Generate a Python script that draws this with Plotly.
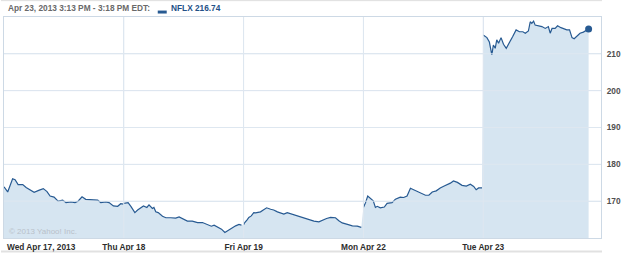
import plotly.graph_objects as go

# ---- data (minutes after 9:30 open, price) ----
day_labels = ["Wed Apr 17, 2013", "Thu Apr 18", "Fri Apr 19", "Mon Apr 22", "Tue Apr 23"]
y_ticks = [170, 180, 190, 200, 210]

wed_min = [0, 12, 28, 36, 46, 61, 72, 88, 98, 115, 128, 140, 150, 163, 176, 191, 202, 218, 231, 241,
           254, 266, 280, 293, 305, 315, 332, 342, 356, 370, 380, 389]
wed_val = [173.9, 172.5, 176.1, 175.8, 174.5, 174.5, 173.7, 173.0, 172.4, 173.0, 173.4, 172.6, 171.4,
           171.1, 170.0, 170.3, 169.6, 169.8, 169.6, 170.0, 171.2, 170.5, 170.5, 170.4, 170.3, 169.6,
           169.8, 169.6, 168.7, 168.6, 169.3, 169.2]

thu_min = [0, 14, 23, 36, 45, 55, 64, 75, 82, 93, 98, 104, 112, 126, 137, 153, 169, 180, 196, 207,
           223, 240, 256, 272, 285, 294, 307, 318, 329, 342, 353, 364, 375, 383]
thu_val = [169.4, 169.6, 168.6, 166.9, 167.6, 168.3, 168.7, 168.3, 169.0, 168.0, 168.3, 167.1, 166.9,
           165.9, 165.5, 165.5, 165.4, 165.7, 165.1, 164.6, 164.6, 164.2, 164.2, 163.6, 163.2, 163.5,
           162.9, 162.4, 161.5, 162.2, 162.6, 163.3, 163.7, 163.5]

fri_min = [0, 3, 12, 17, 25, 33, 39, 46, 55, 64, 75, 88, 98, 110, 123, 131, 142, 153, 169, 183, 196,
           212, 229, 245, 259, 270, 283, 299, 310, 321, 338, 354, 370, 383]
fri_val = [163.6, 164.1, 165.0, 165.6, 166.0, 166.9, 166.8, 166.9, 167.1, 167.6, 168.2, 167.8, 167.6,
           167.1, 166.8, 166.5, 166.9, 166.6, 166.2, 165.9, 165.5, 165.0, 164.6, 164.4, 165.0, 165.3,
           165.6, 165.5, 164.7, 164.1, 163.7, 163.3, 163.2, 162.9]

mon_min = [0, 7, 14, 23, 32, 39, 45, 55, 68, 77, 93, 104, 120, 131, 142, 153, 164, 175, 185, 202,
           213, 224, 237, 250, 263, 274, 283, 293, 306, 321, 335, 348, 359, 367, 375, 386]
mon_val = [168.3, 169.6, 171.4, 170.7, 170.1, 168.3, 168.6, 168.2, 168.4, 169.4, 169.6, 170.5, 171.1,
           171.0, 171.4, 173.5, 173.1, 172.7, 172.4, 171.6, 171.6, 172.5, 172.8, 173.6, 174.1, 174.5,
           174.9, 175.5, 175.1, 174.3, 174.1, 174.6, 174.0, 173.1, 173.6, 173.6]

tue_min = [0, 12, 20, 28, 33, 39, 44, 50, 58, 66, 75, 85, 96, 107, 118, 129, 137, 147, 153, 158, 164,
           169, 180, 191, 202, 212, 218, 224, 234, 242, 253, 261, 272, 281, 289, 296, 305, 315, 326, 343]
tue_val = [215.1, 214.4, 213.2, 209.7, 212.4, 211.5, 213.8, 212.9, 214.4, 212.6, 211.5, 212.9, 214.7,
           216.5, 216.0, 216.0, 215.6, 216.2, 218.7, 218.3, 218.9, 217.8, 217.6, 217.4, 216.9, 217.4,
           215.6, 216.9, 216.9, 217.6, 217.1, 216.9, 216.5, 216.5, 214.4, 214.1, 214.9, 215.6, 215.9,
           216.74]

SESSION = 390.0
days = [(wed_min, wed_val), (thu_min, thu_val), (fri_min, fri_val), (mon_min, mon_val), (tue_min, tue_val)]

fill_x, fill_y, line_x, line_y = [], [], [], []
for i, (mins, vals) in enumerate(days):
    xs = [i + m / SESSION for m in mins]
    fill_x += xs
    fill_y += vals
    line_x += xs + [None]
    line_y += vals + [None]

LINE = "#275a92"
FILL = "rgb(214,229,241)"
GRID = "rgb(222,231,240)"
BORDER = "rgb(205,217,229)"
FONT = "Liberation Sans"

fig = go.Figure()
fig.add_trace(go.Scatter(x=fill_x, y=fill_y, mode="lines", fill="tozeroy", fillcolor=FILL,
                         line=dict(width=0, color=FILL), hoverinfo="skip", showlegend=False))
fig.add_trace(go.Scatter(x=line_x, y=line_y, mode="lines", line=dict(color=LINE, width=1.2),
                         connectgaps=False, showlegend=False, name="NFLX"))
fig.add_trace(go.Scatter(x=[fill_x[-1]], y=[fill_y[-1]], mode="markers",
                         marker=dict(color=LINE, size=7), showlegend=False))

W, H = 625, 255
ML, MR, MT, MB = 3, 24, 17, 15
PW, PH = W - ML - MR, H - MT - MB


def px(xp):
    return (xp - ML) / PW


def py(yp):
    return (H - MB - yp) / PH


xvals = list(range(len(day_labels)))
shapes = []
for xv in xvals[1:]:
    shapes.append(dict(type="line", xref="x", yref="paper", x0=xv, x1=xv, y0=0, y1=1,
                       line=dict(color=GRID, width=1), layer="above"))
for yv in y_ticks:
    shapes.append(dict(type="line", xref="paper", yref="y", x0=0, x1=1, y0=yv, y1=yv,
                       line=dict(color=GRID, width=1), layer="above"))
# header / footer separators
shapes.append(dict(type="line", xref="paper", yref="paper", x0=px(0), x1=px(602), y0=py(0.5), y1=py(0.5),
                   line=dict(color="rgb(222,222,222)", width=1)))
shapes.append(dict(type="line", xref="paper", yref="paper", x0=px(0), x1=px(602), y0=py(253.5), y1=py(253.5),
                   line=dict(color="rgb(225,225,225)", width=2)))
# legend swatch
shapes.append(dict(type="rect", xref="paper", yref="paper", x0=px(157), x1=px(166), y0=py(13.5), y1=py(10.5),
                   fillcolor=LINE, line=dict(width=0)))

annotations = [
    dict(text="Apr 23, 2013 3:13 PM - 3:18 PM EDT:", xref="paper", yref="paper", x=px(5), y=py(8),
         xanchor="left", yanchor="middle", showarrow=False,
         font=dict(family=FONT, size=8.3, color="rgb(105,105,105)", weight="bold")),
    dict(text="NFLX 216.74", xref="paper", yref="paper", x=px(168), y=py(8),
         xanchor="left", yanchor="middle", showarrow=False,
         font=dict(family=FONT, size=8.3, color="rgb(35,80,135)", weight="bold")),
    dict(text="© 2013 Yahoo! Inc.", xref="paper", yref="paper", x=px(6), y=py(233),
         xanchor="left", yanchor="middle", showarrow=False,
         font=dict(family=FONT, size=8, color="rgb(185,193,202)")),
    dict(text=day_labels[0], xref="paper", yref="paper", x=px(4), y=py(249),
         xanchor="left", yanchor="middle", showarrow=False,
         font=dict(family=FONT, size=8.3, color="rgb(45,45,45)", weight="bold")),
]

fig.update_layout(
    width=W, height=H, margin=dict(l=ML, r=MR, t=MT, b=MB, pad=0),
    paper_bgcolor="white", plot_bgcolor="white",
    shapes=shapes, annotations=annotations, showlegend=False,
    xaxis=dict(range=[0, 4.983], tickmode="array", tickvals=xvals,
               ticktext=[""] + day_labels[1:], showgrid=True, gridcolor=GRID, zeroline=False,
               showline=True, mirror=True, linecolor=BORDER, linewidth=1, ticks="",
               ticklabelstandoff=1,
               tickfont=dict(family=FONT, size=8.3, color="rgb(45,45,45)", weight="bold"),
               fixedrange=True),
    yaxis=dict(range=[160, 220], side="right", tickmode="array", tickvals=y_ticks,
               showgrid=True, gridcolor=GRID, zeroline=False, showline=True, mirror=True,
               linecolor=BORDER, linewidth=1, ticks="", ticklabelstandoff=3,
               tickfont=dict(family=FONT, size=8.3, color="rgb(80,80,80)", weight="bold"),
               fixedrange=True),
)

fig.write_html("out.html")
